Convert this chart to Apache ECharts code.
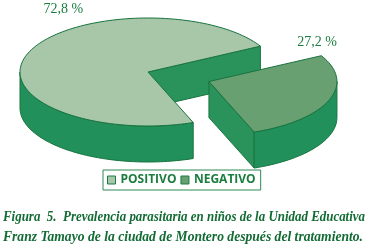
<!DOCTYPE html>
<html>
<head>
<meta charset="utf-8">
<script src="https://cdn.jsdelivr.net/npm/echarts@6/dist/echarts.min.js"></script>
<style>
html,body{margin:0;padding:0;background:#fff;}
#main{width:371px;height:250px;}
</style>
</head>
<body>
<div id="main"></div>
<script>
// ---- data ----
const categories = ['POSITIVO', 'NEGATIVO'];
const values = [72.8, 27.2];
const valueLabels = ['72,8 %', '27,2 %'];
const captionLines = [
  'Figura  5.  Prevalencia parasitaria en niños de la Unidad Educativa',
  'Franz Tamayo de la ciudad de Montero después del tratamiento.'
];

// ---- styles / layout ----
const CX = 148, CY = 72, RX = 128, RY = 54, DEPTH = 36, START = 28.6;
const EXPLODE = [0, 65];
const LABEL_ANG = [119.6, 40.5], LABEL_R = [1.34, 1.11];
const TOP_COLORS = ['#a8c6a8', '#68a072'];
const WALL_COLOR = '#22905a';
const CUT_COLOR = '#2a935c';
const EDGE = '#17743f';
const TEXT_GREEN = '#1a7d3e';

const total = values.reduce((a, b) => a + b, 0);
const starts = [];
let acc = START;
values.forEach(v => { starts.push(acc); acc += v / total * 360; });

function pt(cx, cy, a, dy) {
  const r = a * Math.PI / 180;
  return [cx + RX * Math.cos(r), cy - RY * Math.sin(r) + (dy || 0)];
}
function arc(cx, cy, a1, a2, dy) {
  const n = Math.max(2, Math.ceil(Math.abs(a2 - a1) / 2));
  const pts = [];
  for (let i = 0; i <= n; i++) pts.push(pt(cx, cy, a1 + (a2 - a1) * i / n, dy));
  return pts;
}

function makeRender(idx) {
  return function (params, api) {
    const v = api.value(0);
    const a1 = starts[idx], a2 = a1 + v / total * 360, mid = (a1 + a2) / 2;
    const m = mid * Math.PI / 180;
    const cx = CX + EXPLODE[idx] * Math.cos(m);
    const cy = CY - EXPLODE[idx] * RY / RX * Math.sin(m);
    const children = [];
    const wallStyle = { fill: CUT_COLOR, stroke: EDGE, lineWidth: 1 };
    // cut walls (only those facing viewer)
    [[a1, a1 - 90], [a2, a2 + 90]].forEach(([a, n]) => {
      if (Math.sin(n * Math.PI / 180) < -1e-6) {
        const p = pt(cx, cy, a), q = pt(cx, cy, a, DEPTH);
        children.push({ type: 'polygon', shape: { points: [[cx, cy], p, q, [cx, cy + DEPTH]] }, style: wallStyle });
      }
    });
    // outer wall, front part
    for (let k = -1; k <= 1; k++) {
      const lo = Math.max(a1, 180 + 360 * k), hi = Math.min(a2, 360 + 360 * k);
      if (hi > lo) {
        const pts = arc(cx, cy, lo, hi, 0).concat(arc(cx, cy, hi, lo, DEPTH));
        children.push({ type: 'polygon', shape: { points: pts }, style: { fill: WALL_COLOR, stroke: EDGE, lineWidth: 1 } });
      }
    }
    // top face
    children.push({ type: 'polygon', shape: { points: [[cx, cy]].concat(arc(cx, cy, a1, a2, 0)) },
      style: { fill: api.visual('color'), stroke: EDGE, lineWidth: 1 } });
    // label
    const la = LABEL_ANG[idx] * Math.PI / 180;
    children.push({ type: 'text', style: {
      text: valueLabels[idx],
      x: cx + LABEL_R[idx] * RX * Math.cos(la),
      y: cy - LABEL_R[idx] * RY * Math.sin(la),
      align: 'center', verticalAlign: 'middle',
      fill: TEXT_GREEN, font: '14px "Liberation Serif"'
    }});
    return { type: 'group', children };
  };
}

// caption width fitting
const capFont = 'italic bold 15px "Liberation Serif"';
const ctx = document.createElement('canvas').getContext('2d');
ctx.font = capFont;
const capTargets = [362, 360];
const captionGraphics = captionLines.map((t, i) => {
  const w = ctx.measureText(t).width;
  return {
    type: 'text', left: 3, top: 210 + i * 20,
    scaleX: capTargets[i] / w,
    style: { text: t, font: capFont, fill: '#136b34' }
  };
});

const chart = echarts.init(document.getElementById('main'), null, { renderer: 'canvas' });
chart.setOption({
  animation: false,
  backgroundColor: '#fff',
  legend: {
    data: categories,
    left: 103, top: 170,
    orient: 'horizontal',
    icon: 'rect', itemWidth: 8, itemHeight: 8, itemGap: 4,
    padding: [4, 5, 4, 4],
    borderColor: '#2f8a55', borderWidth: 1,
    itemStyle: { borderColor: '#1d7a45', borderWidth: 1 },
    textStyle: { color: TEXT_GREEN, fontSize: 12, fontWeight: 'bold', fontFamily: 'Open Sans' },
    selectedMode: false
  },
  graphic: captionGraphics,
  series: categories.map((name, i) => ({
    type: 'custom',
    name: name,
    coordinateSystem: 'none',
    renderItem: makeRender(i),
    itemStyle: { color: TOP_COLORS[i] },
    data: [[values[i]]],
    silent: true
  }))
});
</script>
</body>
</html>
